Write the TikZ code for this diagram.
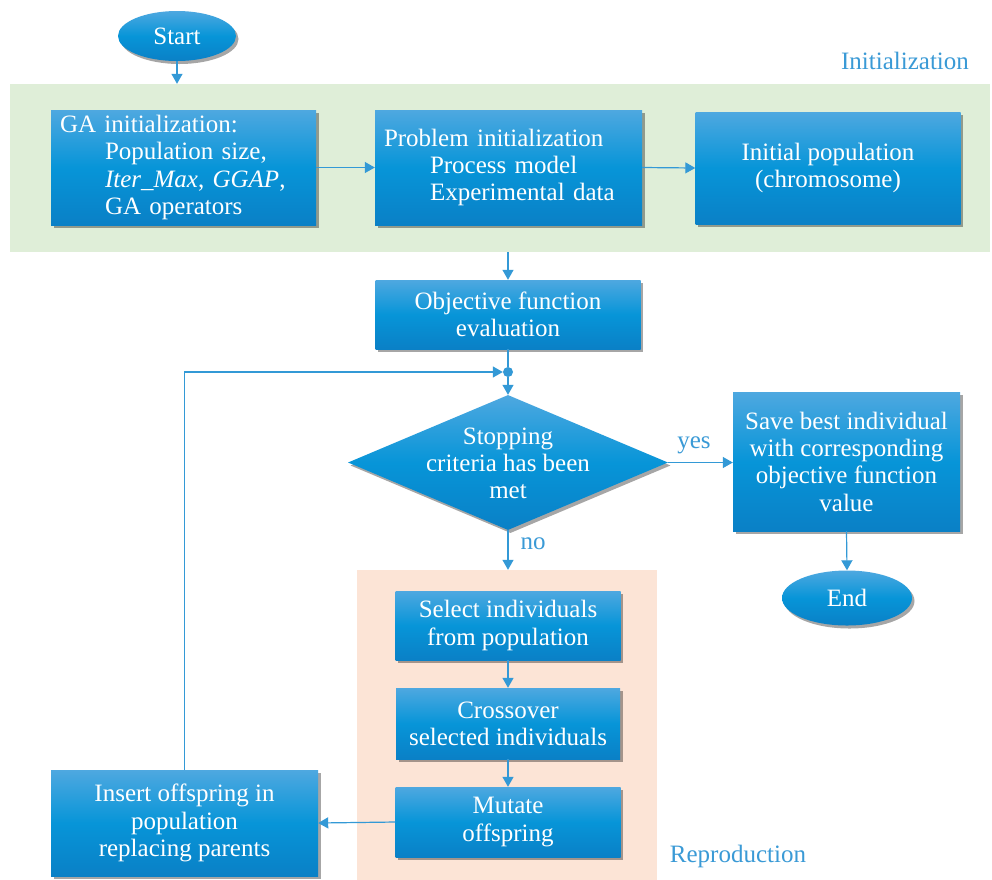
\documentclass[tikz,border=0pt]{standalone}
\usepackage{fontspec}
\setmainfont{Liberation Serif}
\usetikzlibrary{shapes.geometric,arrows.meta,shadows}
\definecolor{boxtop}{HTML}{4EA8E0}
\definecolor{boxmid}{HTML}{0795D8}
\definecolor{boxbot}{HTML}{0A80C6}
\definecolor{linec}{HTML}{3399D6}
\definecolor{labc}{HTML}{3A9AD6}
\definecolor{greenreg}{HTML}{DFEED8}
\definecolor{salmonreg}{HTML}{FCE4D6}
\newcommand{\bigtxt}{\fontsize{25}{27.3}\selectfont}
\begin{document}
\begin{tikzpicture}[x=1pt,y=-1pt,
  fc/.style={draw=none, top color=boxtop, bottom color=boxbot, middle color=boxmid, text=white, font=\bigtxt, align=center, inner sep=0pt,
    drop shadow={shadow xshift=2.5pt, shadow yshift=-3pt, opacity=0.35, fill=black}},
  term/.style={fc, shape=ellipse},
  region/.style={draw=none, inner sep=0pt},
  lab/.style={text=labc, font=\bigtxt, inner sep=0pt},
  arr/.style={draw=linec, line width=1.2pt, -{Triangle[length=10pt,width=11pt]}},
  ln/.style={draw=linec, line width=1.2pt}
]
\useasboundingbox[fill=white] (0,0) rectangle (992,879);

% regions
\node[region, fill=greenreg, minimum width=980pt, minimum height=168pt] (initreg) at (500,168) {};
\node[region, fill=salmonreg, minimum width=300pt, minimum height=312pt] (reprreg) at (507,726) {};
\node[lab] (initlab) at (905,61) {Initialization};
\node[lab] (reprlab) at (738,856) {Reproduction};

% terminals
\node[term, minimum width=118pt, minimum height=50pt] (start) at (177,36) {Start};
\node[term, minimum width=130pt, minimum height=55pt] (endn) at (847,598) {End};

% initialization boxes
\node[fc, minimum width=265pt, minimum height=115pt, text width=247pt, inner xsep=9pt, align=left] (gainit) at (183.5,167.5)
  {GA initialization:\\ \hspace*{45pt}Population size,\\ \hspace*{45pt}\textit{Iter\_Max}, \textit{GGAP},\\ \hspace*{45pt}GA operators};
\node[fc, minimum width=267pt, minimum height=115pt, text width=249pt, inner xsep=9pt, align=left] (prob) at (508.5,167.5)
  {Problem initialization\\ \hspace*{46pt}Process model\\ \hspace*{46pt}Experimental data};
\node[fc, minimum width=265pt, minimum height=112pt] (initpop) at (828,168)
  {Initial population\\(chromosome)};

\node[fc, minimum width=265pt, minimum height=69pt] (obj) at (508,314.5)
  {Objective function\\evaluation};

\node[fill=linec, circle, minimum size=10pt, inner sep=0pt] (dot) at (508,372) {};

\node[shape=diamond, draw=none, top color=boxtop, bottom color=boxbot, middle color=boxmid, inner sep=0pt,
  minimum width=320pt, minimum height=135pt, aspect=2.37,
  drop shadow={shadow xshift=2.5pt, shadow yshift=-3pt, opacity=0.35, fill=black}] (dec) at (508,462.5) {};
\node[text=white, font=\bigtxt, align=center, inner sep=0pt] (dectxt) at (508,463.5) {Stopping\\criteria has been\\met};

\node[fc, minimum width=227pt, minimum height=139pt] (save) at (846.5,461.5)
  {Save best individual\\with corresponding\\objective function\\value};

% reproduction boxes
\node[fc, minimum width=225pt, minimum height=69pt] (sel) at (508,625.5)
  {Select individuals\\from population};
\node[fc, minimum width=224pt, minimum height=71pt] (cross) at (508,723.5)
  {Crossover\\selected individuals};
\node[fc, minimum width=225pt, minimum height=70pt] (mut) at (508,822)
  {Mutate\\offspring};
\node[fc, minimum width=267pt, minimum height=106pt] (ins) at (184.5,823)
  {Insert offspring in\\population\\replacing parents};

% connectors
\draw[arr] (start.south) -- (start.south |- initreg.north);
\draw[arr] (gainit.east) -- (prob.west);
\draw[arr] (prob.east) -- (initpop.west);
\draw[arr] (obj.north |- initreg.south) -- (obj.north);
\draw[ln] (obj.south) -- (dot.north);
\draw[arr] (dot.south) -- (dec.north);
\draw[arr] (ins.north) |- (dot.west);
\draw[arr] (dec.east) -- (save.west |- dec.east) node[lab, pos=0.4, above=8pt] (yes) {yes};
\draw[arr] (dec.south) -- (dec.south |- reprreg.north) node[lab, pos=0.35, right=12pt] (no) {no};
\draw[arr] (save.south) -- (endn.north);
\draw[arr] (sel.south) -- (cross.north);
\draw[arr] (cross.south) -- (mut.north);
\draw[arr] (mut.west) -- (ins.east);
\end{tikzpicture}
\end{document}
